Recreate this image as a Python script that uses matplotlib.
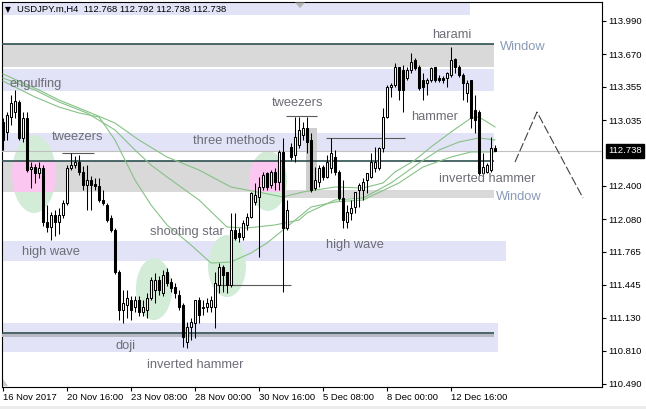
import matplotlib
matplotlib.use('Agg')
import matplotlib.pyplot as plt
from matplotlib.patches import Rectangle, Ellipse, Polygon
import matplotlib.transforms as mtransforms
import numpy as np

plt.rcParams['font.family'] = ['Liberation Sans', 'DejaVu Sans']

# ---------------- data (USDJPY.m, H4) ----------------
opens = [113.016, 112.919, 113.064, 113.112, 113.209, 112.861, 113.054, 112.563, 112.582, 112.524,
         112.572, 112.051, 112.003, 112.119, 112.051, 112.119, 112.235, 112.572, 112.601, 112.630,
         112.534, 112.409, 112.456, 112.418, 112.399, 112.264, 112.216, 112.090, 111.974, 111.570,
         111.203, 111.252, 111.299, 111.232, 111.299, 111.184, 111.203, 111.319, 111.396, 111.492,
         111.367, 111.570, 111.473, 111.425, 111.348, 111.252, 110.895, 111.040, 111.078, 111.299,
         111.223, 111.232, 111.232, 111.232, 111.445, 111.618, 111.570, 111.445, 111.974, 111.946,
         111.907, 112.023, 112.100, 112.245, 112.293, 112.389, 112.524, 112.409, 112.534, 112.437,
         112.727, 111.994, 112.775, 112.698, 112.794, 112.891, 112.958, 112.842, 112.379, 112.437,
         112.582, 112.486, 112.572, 112.679, 112.534, 112.283, 112.052, 112.139, 112.196, 112.360,
         112.360, 112.456, 112.486, 112.572, 112.572, 112.765, 113.064, 113.353, 113.373, 113.546,
         113.517, 113.440, 113.517, 113.613, 113.546, 113.421, 113.392, 113.421, 113.546, 113.440,
         113.440, 113.440, 113.469, 113.623, 113.546, 113.469, 113.295, 113.421, 113.131, 113.112,
         112.524, 112.534, 112.553, 112.768]
closes = [112.842, 113.083, 113.199, 113.218, 112.861, 113.054, 112.553, 112.582, 112.524, 112.572,
          112.051, 112.003, 112.119, 112.051, 112.119, 112.235, 112.572, 112.601, 112.630, 112.534,
          112.409, 112.456, 112.409, 112.399, 112.264, 112.235, 112.071, 111.974, 111.570, 111.203,
          111.271, 111.319, 111.203, 111.299, 111.184, 111.232, 111.319, 111.492, 111.492, 111.396,
          111.541, 111.464, 111.416, 111.367, 111.232, 110.943, 111.040, 111.088, 111.299, 111.155,
          111.232, 111.271, 111.299, 111.464, 111.618, 111.541, 111.445, 111.974, 111.898, 111.907,
          112.042, 112.100, 112.331, 112.312, 112.389, 112.505, 112.389, 112.534, 112.437, 112.727,
          111.994, 112.167, 112.679, 112.871, 112.939, 112.958, 112.823, 112.360, 112.456, 112.572,
          112.486, 112.630, 112.717, 112.534, 112.283, 112.071, 112.148, 112.187, 112.341, 112.409,
          112.437, 112.524, 112.630, 112.630, 112.765, 113.064, 113.353, 113.373, 113.546, 113.324,
          113.324, 113.517, 113.594, 113.536, 113.344, 113.353, 113.421, 113.536, 113.421, 113.421,
          113.421, 113.488, 113.613, 113.546, 113.469, 113.392, 113.392, 113.054, 113.035, 112.524,
          112.582, 112.601, 112.765, 112.738]
highs = [113.054, 113.112, 113.276, 113.324, 113.228, 113.112, 113.112, 112.630, 112.611, 112.630,
         112.601, 112.216, 112.148, 112.167, 112.187, 112.264, 112.601, 112.717, 112.688, 112.698,
         112.592, 112.601, 112.495, 112.476, 112.476, 112.360, 112.235, 112.119, 111.994, 111.589,
         111.396, 111.396, 111.339, 111.339, 111.339, 111.299, 111.367, 111.521, 111.560, 111.531,
         111.589, 111.608, 111.512, 111.464, 111.396, 111.271, 111.088, 111.126, 111.299, 111.329,
         111.299, 111.319, 111.339, 111.570, 111.657, 111.637, 111.570, 112.139, 112.139, 111.994,
         112.071, 112.139, 112.341, 112.428, 112.486, 112.534, 112.534, 112.553, 112.572, 112.746,
         112.862, 112.264, 112.814, 113.064, 113.064, 113.016, 113.064, 112.910, 112.582, 112.601,
         112.601, 112.698, 112.862, 112.746, 112.553, 112.457, 112.216, 112.264, 112.341, 112.428,
         112.476, 112.524, 112.717, 112.775, 112.775, 113.151, 113.373, 113.392, 113.585, 113.546,
         113.565, 113.546, 113.681, 113.633, 113.565, 113.488, 113.440, 113.546, 113.546, 113.469,
         113.459, 113.498, 113.739, 113.633, 113.565, 113.488, 113.421, 113.421, 113.276, 113.131,
         112.717, 112.620, 112.871, 112.792]
lows = [112.746, 112.842, 112.987, 113.054, 112.842, 112.823, 112.534, 112.379, 112.428, 112.476,
        112.013, 111.955, 111.878, 111.917, 111.936, 112.090, 112.216, 112.553, 112.572, 112.505,
        112.360, 112.167, 112.167, 112.360, 112.245, 112.216, 112.052, 111.955, 111.551, 111.107,
        111.078, 111.126, 111.107, 111.184, 111.146, 111.146, 111.126, 111.299, 111.271, 111.348,
        111.339, 111.435, 111.377, 111.319, 111.203, 110.847, 110.837, 110.914, 110.934, 111.078,
        111.155, 111.184, 111.184, 111.030, 111.367, 111.377, 111.367, 111.425, 111.878, 111.859,
        111.878, 111.974, 112.090, 112.216, 111.715, 112.360, 112.360, 112.379, 112.360, 112.360,
        111.377, 111.974, 112.649, 112.630, 112.765, 112.842, 112.717, 112.341, 112.360, 112.389,
        112.456, 112.476, 112.524, 112.505, 112.264, 111.994, 111.994, 112.071, 112.139, 112.196,
        112.264, 112.331, 112.476, 112.534, 112.553, 112.727, 113.054, 113.257, 113.353, 113.228,
        113.112, 113.421, 113.488, 113.517, 113.324, 113.228, 113.276, 113.401, 113.401, 113.401,
        113.392, 113.353, 113.450, 113.488, 113.450, 113.228, 113.209, 112.958, 112.910, 112.505,
        112.505, 112.524, 112.534, 112.738]

# moving averages (bar index, price)
ma1_idx = [0, 9, 14, 22, 28, 34, 41, 49, 57, 65, 70, 75, 83, 90, 95, 98, 103, 107, 112, 117, 119, 123]
ma1_val = [113.479, 113.324, 113.228, 113.103, 113.006, 112.842, 112.678, 112.553, 112.389, 112.331,
           112.293, 112.341, 112.389, 112.379, 112.428, 112.534, 112.649, 112.775, 112.919, 113.054,
           113.064, 112.968]
ma2_idx = [0, 8, 14, 21, 28, 33, 37, 41, 49, 56, 61, 68, 74, 76, 83, 90, 97, 104, 109, 114, 119, 123]
ma2_val = [113.440, 113.324, 113.209, 113.103, 112.939, 112.746, 112.601, 112.486, 112.264, 112.003,
           111.994, 112.023, 112.071, 112.138, 112.264, 112.283, 112.428, 112.620, 112.746, 112.823,
           112.862, 112.842]
ma3_idx = [0, 8, 14, 19, 24, 28, 33, 37, 41, 47, 52, 57, 62, 66, 70, 74, 77, 83, 90, 99, 105, 112, 117, 123]
ma3_val = [113.411, 113.257, 113.160, 113.103, 113.064, 112.842, 112.456, 112.216, 112.023, 111.830,
           111.656, 111.666, 111.753, 111.849, 111.974, 112.100, 112.196, 112.245, 112.264, 112.428,
           112.582, 112.678, 112.727, 112.727]

# zones (x from/to in bars, price low/high, kind)
zone_x0 = [-0.25, -0.25, -0.25, -0.25, -0.25, 75.75, 70.5, -0.25, -0.25]
zone_x1 = [116.75, 122.75, 122.75, 122.75, 70.5, 78.5, 122.75, 125.75, 123.75]
zone_lo = [114.047, 113.546, 113.315, 112.727, 112.341, 112.360, 112.283, 111.676, 110.798]
zone_hi = [114.163, 113.768, 113.527, 112.910, 112.640, 112.958, 112.360, 111.868, 111.078]
zone_kind = ['lav', 'gray', 'lav', 'lav', 'gray', 'gray2', 'gray', 'lav', 'lav']

# level lines
level_val = [113.768, 112.640, 110.981]
level_x1 = 122.75
short_val = [112.717, 113.074, 112.862, 111.444]
short_x0 = [14.75, 70.75, 80.75, 53.0]
short_x1 = [22.75, 78.5, 100.5, 72.0]

# ellipses (center bar, center price, width bars, height price)
ell_cx = [7.75, 66.25, 56.0, 37.75]
ell_cy = [112.514, 112.447, 111.627, 111.405]
ell_w = [11.0, 9.5, 9.5, 9.0]
ell_h = [0.752, 0.578, 0.598, 0.598]

# forecast zigzag
fc_idx = [128.0, 133.5, 145.0]
fc_val = [112.630, 113.112, 112.283]

# labels
lab_text = ['engulfing', 'tweezers', 'three methods', 'tweezers', 'harami', 'hammer',
            'inverted hammer', 'shooting star', 'high wave', 'high wave', 'doji', 'inverted hammer']
lab_x = [1.75, 12.25, 47.5, 67.25, 107.25, 102.0, 109.0, 36.75, 4.75, 80.75, 28.0, 36.0]
lab_y = [113.382, 112.871, 112.833, 113.199, 113.855, 113.064, 112.466, 111.955, 111.762, 111.830,
         110.856, 110.673]
win_x = [124.25, 123.25]
win_y = [113.739, 112.293]

last_price = 112.738
yticks = [113.990, 113.670, 113.355, 113.035, 112.400, 112.080, 111.765, 111.445, 111.130, 110.810, 110.490]
xtick_idx = [0, 16, 32, 48, 64, 80, 96, 112]
xtick_lab = ['16 Nov 2017', '20 Nov 16:00', '23 Nov 08:00', '28 Nov 00:00', '30 Nov 16:00',
             '5 Dec 08:00', '8 Dec 00:00', '12 Dec 16:00']

# ---------------- figure ----------------
W, H = 646, 409
fig = plt.figure(figsize=(W / 100, H / 100), dpi=100)
fig.patch.set_facecolor('white')
ax = fig.add_axes([2 / W, (H - 387) / H, 600 / W, 385 / H])
ax.set_xlim(-0.25, 149.75)
ax.set_ylim(110.4605, 114.173)

LAV = '#e3e3f7'
GRAY = '#d9d9d9'
GRAY2 = '#cfcfcf'
DARK = '#2f4f4f'
colors = {'lav': LAV, 'gray': GRAY, 'gray2': GRAY2}
for x0, x1, lo, hi, k in zip(zone_x0, zone_x1, zone_lo, zone_hi, zone_kind):
    ax.add_patch(Rectangle((x0, lo), x1 - x0, hi - lo, facecolor=colors[k], edgecolor='none', zorder=1))

# ellipses with pink where they overlap the gray zone
gz = 4
for cx, cy, w, h in zip(ell_cx, ell_cy, ell_w, ell_h):
    ax.add_patch(Ellipse((cx, cy), w, h, facecolor='#d3ecd8', edgecolor='none', zorder=2))
for cx, cy, w, h in zip(ell_cx[:2], ell_cy[:2], ell_w[:2], ell_h[:2]):
    e = Ellipse((cx, cy), w, h, facecolor='#fbc6ef', edgecolor='none', zorder=2.5)
    ax.add_patch(e)
    clip = Rectangle((zone_x0[gz], zone_lo[gz]), zone_x1[gz] - zone_x0[gz], zone_hi[gz] - zone_lo[gz],
                     transform=ax.transData)
    e.set_clip_path(clip)

# shadow under bottom level
ax.add_patch(Rectangle((-0.25, 110.946), level_x1 + 0.25, 0.028, facecolor='#b9b9c6', edgecolor='none', zorder=2.8))
for v in level_val:
    ax.hlines(v, -0.25, level_x1, color=DARK, lw=1.2, zorder=3)
for v, a, b in zip(short_val, short_x0, short_x1):
    ax.hlines(v, a, b, color='#5a5a5a', lw=0.8, zorder=3)

ax.axhline(last_price, color='#c0c0c0', lw=0.8, zorder=3.2)

# moving averages
for xi, yv in [(ma1_idx, ma1_val), (ma2_idx, ma2_val), (ma3_idx, ma3_val)]:
    ax.plot(xi, yv, color='#86c286', lw=0.8, zorder=4)

# candles
idx = np.arange(len(opens))
o = np.array(opens)
c = np.array(closes)
up = c >= o
ax.vlines(idx, lows, highs, color='black', lw=0.75, zorder=5)
ax.bar(idx[up], (c - o)[up], bottom=o[up], width=0.6, color='white', edgecolor='black', lw=0.75, zorder=6)
ax.bar(idx[~up], (o - c)[~up], bottom=c[~up], width=0.6, color='black', edgecolor='black', lw=0.75, zorder=6)

# forecast zigzag
ax.plot(fc_idx, fc_val, color='#404040', lw=0.8, linestyle=(0, (8, 2.5)), zorder=4)

# labels
for t, x, y in zip(lab_text, lab_x, lab_y):
    ax.text(x, y, t, fontsize=9.3, color='#6d6d77', ha='left', va='center', zorder=7)
for x, y in zip(win_x, win_y):
    ax.text(x, y, 'Window', fontsize=9.3, color='#8a9ab8', ha='left', va='center', zorder=7)

# axes styling
for s in ax.spines.values():
    s.set_color('black')
    s.set_linewidth(0.8)
ax.yaxis.tick_right()
ax.set_yticks(yticks)
ax.set_yticklabels(['%.3f' % v for v in yticks])
ax.set_xticks(xtick_idx)
ax.set_xticklabels(xtick_lab, ha='left')
ax.tick_params(axis='both', direction='out', length=3, width=0.8, labelsize=6.8, pad=1.5, colors='black')

trans = mtransforms.blended_transform_factory(ax.transAxes, ax.transData)
ax.text(1 + 6 / 600, last_price, '%.3f' % last_price, transform=trans, fontsize=6.8, color='white',
        ha='left', va='center', zorder=10, clip_on=False,
        bbox=dict(facecolor='black', edgecolor='black', pad=1.6))

# header
fig.text(5 / W, 1 - 9.5 / H, '\u25bc', fontsize=5.5, family='DejaVu Sans', va='center', ha='left')
fig.text(17 / W, 1 - 9.5 / H, 'USDJPY.m,H4  112.768 112.792 112.738 112.738', fontsize=6.8,
         va='center', ha='left', color='black')
fig.add_artist(Polygon([(295 / W, 1 - 2.5 / H), (305 / W, 1 - 2.5 / H), (300 / W, 1 - 8 / H)],
                       closed=True, transform=fig.transFigure, facecolor='#b4b4b4', edgecolor='none'))
fig.add_artist(Polygon([(2.5 / W, (H - 379) / H), (2.5 / W, (H - 386) / H), (8 / W, (H - 386) / H)],
                       closed=True, transform=fig.transFigure, facecolor='#c8c8c8', edgecolor='none'))
fig.add_artist(Rectangle((0, 0), 1, 3 / H, transform=fig.transFigure, facecolor='#ececec', edgecolor='none'))

fig.savefig('out.png', dpi=100)
